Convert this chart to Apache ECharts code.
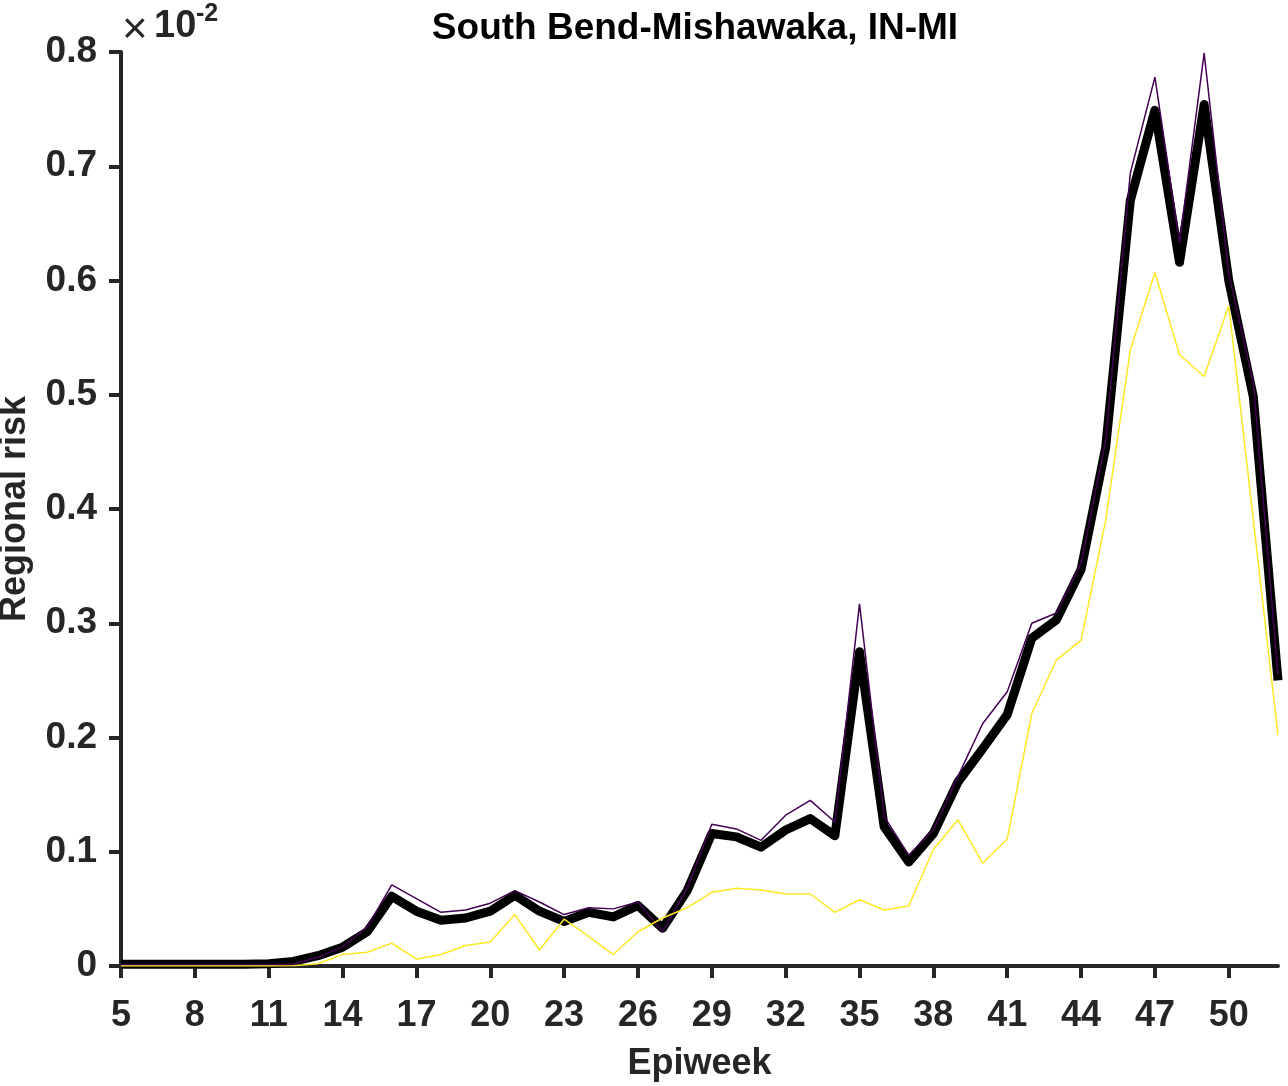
<!DOCTYPE html>
<html>
<head>
<meta charset="utf-8">
<script src="https://cdn.jsdelivr.net/npm/echarts@6/dist/echarts.min.js"></script>
<style>
  html, body { margin: 0; padding: 0; background: #fff; }
  #chart { width: 1288px; height: 1086px; }
</style>
</head>
<body>
<div id="chart"></div>
<script>
// Epiweeks 5..52
const weeks = [5,6,7,8,9,10,11,12,13,14,15,16,17,18,19,20,21,22,23,24,25,26,27,28,29,30,31,32,33,34,35,36,37,38,39,40,41,42,43,44,45,46,47,48,49,50,51,52];

// Values in units of 10^-2
const blackSeries = [0.0015,0.0015,0.0015,0.0015,0.0015,0.0015,0.002,0.004,0.009,0.0165,0.030,0.061,0.048,0.040,0.042,0.048,0.062,0.048,0.039,0.047,0.043,0.053,0.033,0.066,0.116,0.113,0.104,0.119,0.129,0.114,0.275,0.122,0.091,0.116,0.161,0.190,0.220,0.287,0.303,0.347,0.454,0.670,0.749,0.616,0.754,0.600,0.498,0.250];
const purpleSeries = [0.001,0.001,0.001,0.001,0.001,0.001,0.0012,0.0017,0.0076,0.017,0.034,0.071,0.059,0.047,0.049,0.055,0.066,0.056,0.045,0.051,0.050,0.056,0.030,0.068,0.124,0.120,0.110,0.132,0.145,0.126,0.317,0.131,0.097,0.119,0.166,0.212,0.240,0.300,0.309,0.3525,0.460,0.694,0.778,0.633,0.799,0.606,0.510,0.255];
const yellowSeries = [0,0,0,0,0,0,0,0.0003,0.002,0.010,0.012,0.020,0.006,0.010,0.018,0.021,0.045,0.014,0.041,0.026,0.010,0.030,0.042,0.051,0.0645,0.068,0.0665,0.063,0.063,0.047,0.058,0.049,0.0525,0.102,0.128,0.090,0.111,0.221,0.268,0.285,0.390,0.539,0.607,0.535,0.516,0.578,0.390,0.202];

const titleText = 'South Bend-Mishawaka, IN-MI';
const xName = 'Epiweek';
const yName = 'Regional risk';

const FONT = '"Liberation Sans", Arial, Helvetica, sans-serif';
const AX = '#262626';

const chart = echarts.init(document.getElementById('chart'), null, { renderer: 'canvas' });
chart.setOption({
  animation: false,
  backgroundColor: '#ffffff',
  title: {
    text: titleText,
    left: 690,
    top: 5,
    textAlign: 'center',
    textStyle: { fontFamily: FONT, fontWeight: 'bold', fontSize: 37, color: '#000' }
  },
  graphic: [
    { type: 'text', x: 122, y: 31, style: { text: '×', font: 'normal 44px ' + FONT, fill: AX, textVerticalAlign: 'middle' } },
    { type: 'text', x: 154, y: 27, style: { text: '10', font: 'bold 38px ' + FONT, fill: AX, textVerticalAlign: 'middle' } },
    { type: 'text', x: 196, y: 14, style: { text: '-2', font: 'bold 25px ' + FONT, fill: AX, textVerticalAlign: 'middle' } }
  ],
  grid: { left: 121, right: 10, top: 52, bottom: 120, containLabel: false, outerBoundsMode: 'none' },
  xAxis: {
    type: 'category',
    data: weeks.map(String),
    boundaryGap: false,
    name: xName,
    nameLocation: 'middle',
    nameGap: 80,
    nameTextStyle: { fontFamily: FONT, fontWeight: 'bold', fontSize: 36, color: AX },
    axisLine: { show: true, lineStyle: { color: AX, width: 4 } },
    axisTick: { show: true, interval: 2, length: 12, lineStyle: { color: AX, width: 4 } },
    axisLabel: { interval: 2, margin: 32, fontFamily: FONT, fontWeight: 'bold', fontSize: 36, color: AX },
    splitLine: { show: false }
  },
  yAxis: {
    type: 'value',
    min: 0,
    max: 0.8,
    interval: 0.1,
    name: yName,
    nameLocation: 'middle',
    nameGap: 88,
    nameTextStyle: { fontFamily: FONT, fontWeight: 'bold', fontSize: 36, color: AX },
    axisLine: { show: true, lineStyle: { color: AX, width: 4 } },
    axisTick: { show: true, length: 12, lineStyle: { color: AX, width: 4 } },
    axisLabel: {
      margin: 24,
      fontFamily: FONT, fontWeight: 'bold', fontSize: 37, color: AX,
      formatter: v => (v === 0 ? '0' : v.toFixed(1))
    },
    splitLine: { show: false }
  },
  series: [
    {
      type: 'line', data: blackSeries, showSymbol: false, z: 2,
      lineStyle: { color: '#000000', width: 9, join: 'round', cap: 'butt' }
    },
    {
      type: 'line', data: purpleSeries, showSymbol: false, z: 3,
      lineStyle: { color: '#440154', width: 1.5 }
    },
    {
      type: 'line', data: yellowSeries, showSymbol: false, z: 4,
      lineStyle: { color: '#FDE725', width: 1.5 }
    }
  ]
});
</script>
</body>
</html>
